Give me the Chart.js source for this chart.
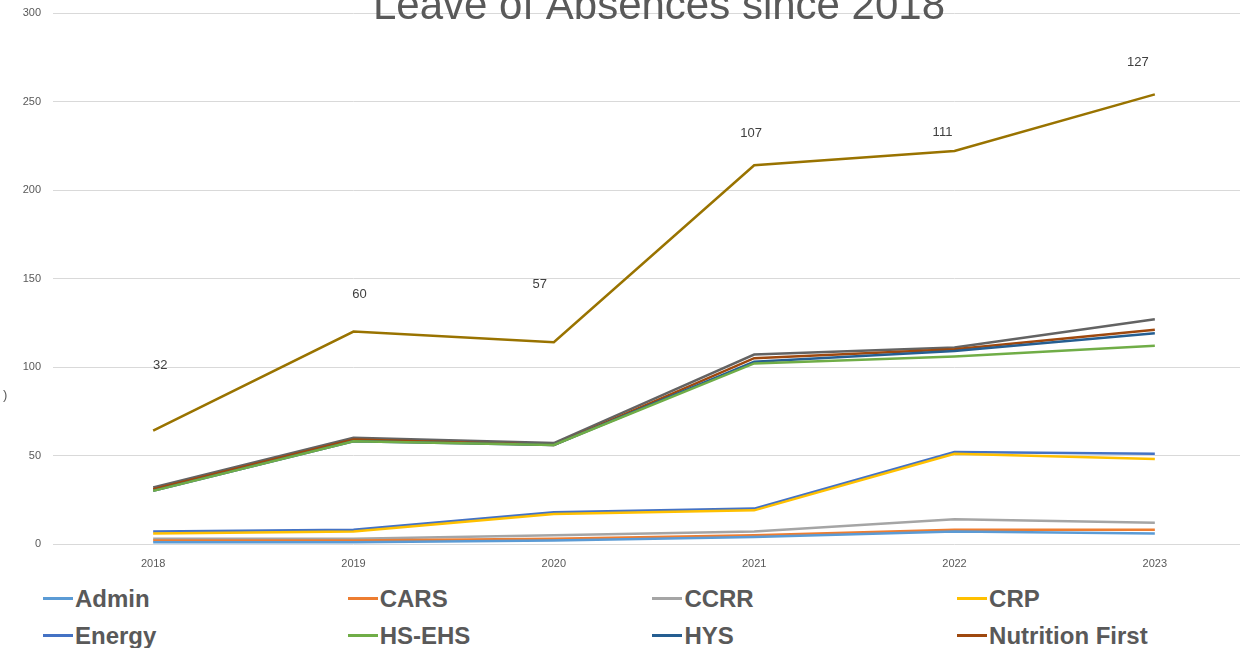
<!DOCTYPE html>
<html>
<head>
<meta charset="utf-8">
<script src="https://cdn.jsdelivr.net/npm/chart.js@4.4.1/dist/chart.umd.min.js"></script>
<style>
    html, body { margin: 0; padding: 0; background: #fff; overflow: hidden; width: 1240px; height: 648px; }
    #wrap { position: absolute; left: 0; top: 0; width: 1256px; height: 580px; }
    #legend {
        position: absolute; left: 43px; top: 580px;
        display: grid; grid-template-columns: repeat(4, 304.7px); grid-auto-rows: 37px;
        font-family: "Liberation Sans", Arial, sans-serif; font-weight: bold; font-size: 24px; color: #595959;
    }
    .item { display: flex; align-items: center; white-space: nowrap; }
    .swatch { width: 30px; height: 3px; margin-right: 2px; }
</style>
</head>
<body>
<div id="wrap"><canvas id="chart"></canvas></div>
<div id="legend"></div>
<script>
// data (stacked line chart, Excel style)
const years = ['2018', '2019', '2020', '2021', '2022', '2023'];

const admin = [1, 1, 2, 4, 7, 6];
const cars = [1, 1, 1, 1, 1, 2];
const ccrr = [1, 1, 2, 2, 6, 4];
const crp = [3, 4, 12, 12, 37, 36];
const energy = [1, 1, 1, 1, 1, 3];
const hsEhs = [23, 50, 38, 82, 54, 61];
const hys = [0, 0, 0, 1, 3, 7];
const nutritionFirst = [1, 1, 0, 2, 1, 2];
const other = [1, 1, 1, 2, 1, 6];
const total = [32, 60, 57, 107, 111, 127];

const seriesNames = ['Admin', 'CARS', 'CCRR', 'CRP', 'Energy', 'HS-EHS', 'HYS', 'Nutrition First', 'Other', 'Total'];
const seriesData = [admin, cars, ccrr, crp, energy, hsEhs, hys, nutritionFirst, other, total];
const seriesColors = ['#5B9BD5', '#ED7D31', '#A5A5A5', '#FFC000', '#4472C4', '#70AD47', '#255E91', '#9E480E', '#636363', '#997300'];

const yTicks = [0, 50, 100, 150, 200, 250, 300];

// where the total labels sit relative to their point (they were dragged by hand)
const labelShift = [[7, -65], [6, -37], [-14, -58], [-3, -32], [-12, -19], [-17, -32]];

const textPlugin = {
    id: 'textPlugin',
    afterDraw(chart) {
        const ctx = chart.ctx;
        ctx.save();
        // title, cut off by the top edge like in the picture
        ctx.font = '42px "Liberation Sans", Arial, sans-serif';
        ctx.fillStyle = '#595959';
        ctx.textAlign = 'center';
        ctx.textBaseline = 'alphabetic';
        ctx.fillText('Leave of Absences since 2018', 659, 19);

        ctx.font = '13px "Liberation Sans", Arial, sans-serif';
        ctx.fillStyle = '#595959';
        ctx.textAlign = 'left';
        ctx.textBaseline = 'middle';
        ctx.fillText(')', 3, 395);

        // data labels on the Total line
        const meta = chart.getDatasetMeta(seriesNames.length - 1);
        ctx.font = '13px "Liberation Sans", Arial, sans-serif';
        ctx.fillStyle = '#404040';
        ctx.textAlign = 'center';
        meta.data.forEach((pt, i) => {
            ctx.fillText(String(total[i]), pt.x + labelShift[i][0], pt.y + labelShift[i][1]);
        });
        ctx.restore();
    }
};

new Chart(document.getElementById('chart'), {
    type: 'line',
    data: {
        labels: years,
        datasets: seriesNames.map((name, i) => ({
            label: name,
            data: seriesData[i],
            borderColor: seriesColors[i],
            backgroundColor: seriesColors[i],
            borderWidth: 2.5,
            pointRadius: 0,
            tension: 0,
            fill: false
        }))
    },
    options: {
        responsive: true,
        maintainAspectRatio: false,
        devicePixelRatio: 1,
        animation: false,
        layout: { padding: { top: 13, right: 1, left: 0, bottom: 0 } },
        plugins: { legend: { display: false }, tooltip: { enabled: false } },
        scales: {
            x: {
                offset: true,
                grid: { display: false },
                border: { display: false },
                ticks: { color: '#595959', font: { size: 11, family: '"Liberation Sans", Arial, sans-serif' }, padding: 5, maxRotation: 0 },
                afterFit: (s) => { s.height = 36; }
            },
            y: {
                stacked: true,
                min: 0,
                max: 300,
                grid: { color: '#d9d9d9', lineWidth: 1, drawTicks: false },
                border: { display: false },
                ticks: {
                    stepSize: 50,
                    padding: 12,
                    color: '#595959',
                    font: { size: 11, family: '"Liberation Sans", Arial, sans-serif' }
                },
                afterBuildTicks: (s) => { s.ticks = yTicks.map(v => ({ value: v })); },
                afterFit: (s) => { s.width = 53; s.paddingTop = 0; s.paddingBottom = 0; }
            }
        }
    },
    plugins: [textPlugin]
});

// legend in four columns, the third row falls below the window like in the reference
const legend = document.getElementById('legend');
seriesNames.forEach((name, i) => {
    const item = document.createElement('div');
    item.className = 'item';
    const sw = document.createElement('span');
    sw.className = 'swatch';
    sw.style.background = seriesColors[i];
    item.appendChild(sw);
    item.appendChild(document.createTextNode(name));
    legend.appendChild(item);
});
</script>
</body>
</html>
